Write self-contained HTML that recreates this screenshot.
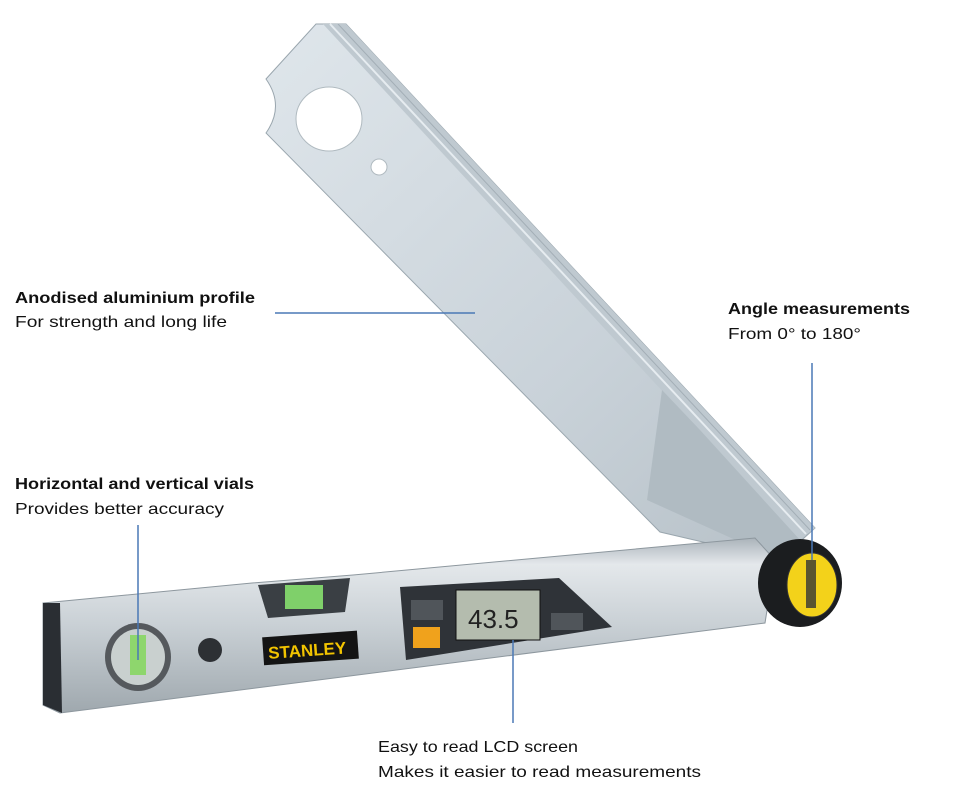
<!DOCTYPE html>
<html><head><meta charset="utf-8"><style>
html,body{margin:0;padding:0;background:#fff;}
svg{display:block;}
text{font-family:"Liberation Sans",sans-serif;font-size:16px;fill:#111;}
.b{font-weight:bold;}
</style></head><body>
<svg width="975" height="796" viewBox="0 0 975 796" xmlns="http://www.w3.org/2000/svg">
<defs>
<linearGradient id="arm" x1="0" y1="0" x2="1" y2="1">
<stop offset="0" stop-color="#dfe6eb"/><stop offset="0.6" stop-color="#c9d2d9"/><stop offset="1" stop-color="#b6c0c7"/>
</linearGradient>
<linearGradient id="bar" x1="0" y1="0" x2="0" y2="1">
<stop offset="0" stop-color="#aab3ba"/><stop offset="0.15" stop-color="#e4e8eb"/><stop offset="0.5" stop-color="#c9d0d5"/><stop offset="1" stop-color="#9fa8ae"/>
</linearGradient>
</defs>
<!-- arm -->
<path d="M266,79 L316,24 L346,24 L815,528 L780,560 L660,532 L266,133 Q285,106 266,79 Z" fill="url(#arm)" stroke="#9aa6ae" stroke-width="1"/>
<path d="M323,24 L346,24 L815,528 L800,540 Z" fill="#bfc9d0"/>
<line x1="330" y1="24" x2="806" y2="534" stroke="#e6ecf0" stroke-width="2"/>
<line x1="338" y1="24" x2="810" y2="530" stroke="#a3aeb6" stroke-width="1"/>
<path d="M662,390 L647,500 L780,560 L800,540 L700,430 Z" fill="#b0bbc2"/>
<ellipse cx="329" cy="119" rx="33" ry="32" fill="#fff" stroke="#b0bac0"/>
<circle cx="379" cy="167" r="8" fill="#fff" stroke="#b0bac0"/>
<!-- bar -->
<path d="M43,603 L252,583 L353,575 L755,538 L775,560 L765,623 L60,713 L43,705 Z" fill="url(#bar)" stroke="#8d979e"/>
<path d="M43,603 L60,603 L62,713 L43,705 Z" fill="#2a2e33"/>
<path d="M258,585 L350,578 L345,612 L268,618 Z" fill="#3a3f44"/>
<rect x="285" y="585" width="38" height="24" fill="#7fd06a"/>
<ellipse cx="138" cy="657" rx="33" ry="34" fill="#55595d"/>
<ellipse cx="138" cy="657" rx="27" ry="28" fill="#c9d0cf"/>
<rect x="130" y="635" width="16" height="40" fill="#8ed66d"/>
<circle cx="210" cy="650" r="12" fill="#2d3034"/>
<g transform="rotate(-4 310 648)">
<rect x="263" y="634" width="95" height="28" fill="#141414"/>
<text x="268" y="656" class="b" style="font-size:17px;fill:#f2c400">STANLEY</text>
</g>
<path d="M400,587 L559,578 L612,627 L406,660 Z" fill="#2f3338"/>
<rect x="456" y="590" width="84" height="50" fill="#b4bcae" stroke="#111"/>
<text x="468" y="628" style="font-size:26px;fill:#222">43.5</text>
<rect x="411" y="600" width="32" height="20" fill="#50555a"/>
<rect x="413" y="627" width="27" height="21" fill="#f0a21c"/>
<rect x="551" y="613" width="32" height="17" fill="#50555a"/>
<!-- knob -->
<ellipse cx="800" cy="583" rx="42" ry="44" fill="#1b1d1f"/>
<ellipse cx="812" cy="585" rx="25" ry="32" fill="#f3d21a" stroke="#333"/>
<rect x="806" y="560" width="10" height="48" fill="#5a5530"/>
<!-- leader lines -->
<g stroke="#4a78b5" stroke-width="1.5">
<line x1="275" y1="313" x2="475" y2="313"/>
<line x1="138" y1="525" x2="138" y2="660"/>
<line x1="812" y1="363" x2="812" y2="560"/>
<line x1="513" y1="640" x2="513" y2="723"/>
</g>
<!-- labels -->
<text x="15" y="303" class="b" textLength="240" lengthAdjust="spacingAndGlyphs">Anodised aluminium profile</text>
<text x="15" y="327" textLength="212" lengthAdjust="spacingAndGlyphs">For strength and long life</text>
<text x="15" y="489" class="b" textLength="239" lengthAdjust="spacingAndGlyphs">Horizontal and vertical vials</text>
<text x="15" y="514" textLength="209" lengthAdjust="spacingAndGlyphs">Provides better accuracy</text>
<text x="728" y="314" class="b" textLength="182" lengthAdjust="spacingAndGlyphs">Angle measurements</text>
<text x="728" y="339" textLength="133" lengthAdjust="spacingAndGlyphs">From 0° to 180°</text>
<text x="378" y="752" textLength="200" lengthAdjust="spacingAndGlyphs">Easy to read LCD screen</text>
<text x="378" y="777" textLength="323" lengthAdjust="spacingAndGlyphs">Makes it easier to read measurements</text>
</svg>
</body></html>
